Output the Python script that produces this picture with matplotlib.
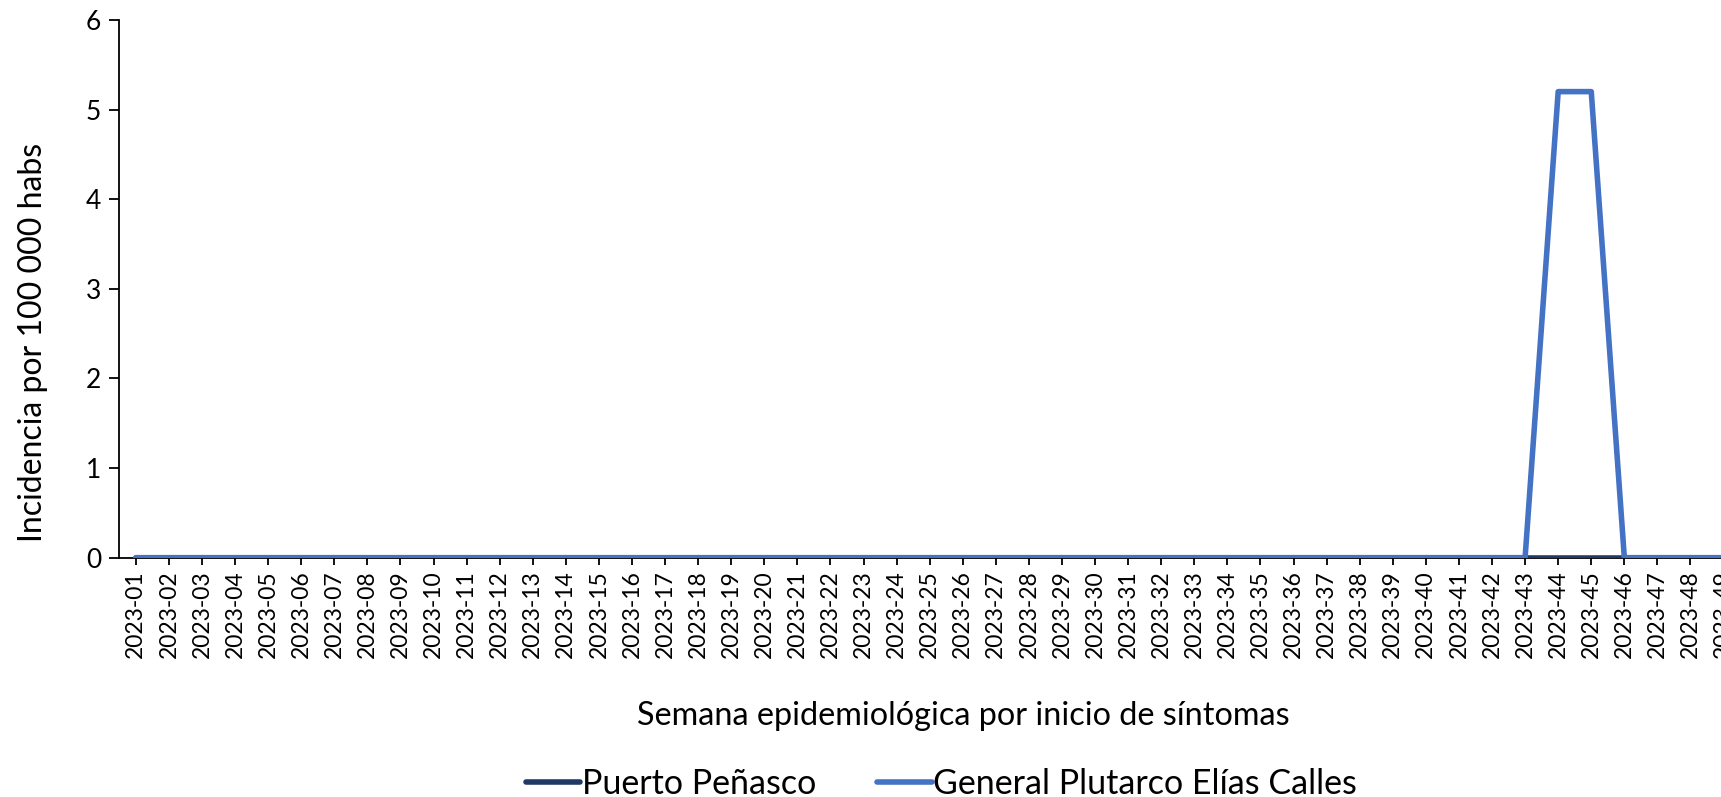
import matplotlib
matplotlib.use("Agg")
import matplotlib.pyplot as plt

# weeks 2023-01 .. 2023-49 (the picture is cut at the right edge)
weeks = [f"2023-{w:02d}" for w in range(1, 50)]
puerto_penasco = [0] * 49
gral_plutarco = [0] * 43 + [5.2, 5.2] + [0] * 4

plt.rcParams['font.family'] = ['Lato', 'DejaVu Sans']

fig = plt.figure(figsize=(17.21, 7.97), dpi=100)
ax = fig.add_axes([0.0693, 0.3003, 0.9418, 0.6747])

x = range(len(weeks))
ax.plot(x, puerto_penasco, color='#203864', lw=4, solid_capstyle='round',
        label='Puerto Peñasco', zorder=3)
ax.plot(x, gral_plutarco, color='#4472C4', lw=4, solid_capstyle='round',
        solid_joinstyle='round', label='General Plutarco Elías Calles', zorder=4)

ax.set_xlim(-0.5, len(weeks) - 0.5)
ax.set_ylim(0, 6)
ax.set_yticks(range(0, 7))
ax.tick_params(axis='y', labelsize=19, length=7, width=1.3, pad=6)
ax.set_xticks(list(x))
ax.set_xticklabels(weeks, rotation=90, fontsize=16.5)
ax.tick_params(axis='x', length=5, width=1.3, pad=4)

for s in ['top', 'right']:
    ax.spines[s].set_visible(False)
ax.spines['left'].set_linewidth(1.3)
ax.spines['bottom'].set_linewidth(1.3)

fig.text(0.0192, 0.570, 'Incidencia por 100 000 habs', rotation=90,
         ha='center', va='center', fontsize=23)
fig.text(0.560, 0.102, 'Semana epidemiológica por inicio de síntomas',
         ha='center', va='center', fontsize=23.3)

fig.legend(loc='center', bbox_to_anchor=(0.547, 0.016), ncol=2, frameon=False,
           fontsize=24.5, handlelength=1.6, handletextpad=0.05, columnspacing=1.8,
           borderaxespad=0)

fig.savefig('out.png', dpi=100)
